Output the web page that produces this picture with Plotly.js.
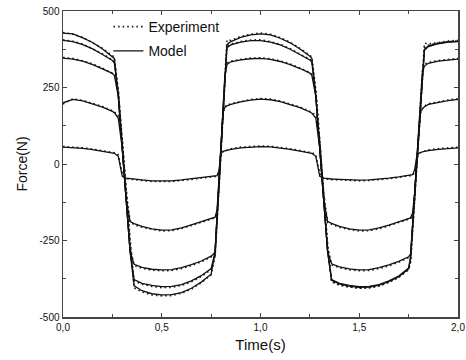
<!DOCTYPE html>
<html>
<head>
<meta charset="utf-8">
<script src="https://cdn.plot.ly/plotly-3.0.1.min.js"></script>
<style>html,body{margin:0;padding:0;background:#fff;}#chart{width:466px;height:360px;}</style>
</head>
<body>
<div id="chart"></div>
<script>
// Time (s)
const time = [0,0.05,0.1,0.15,0.2,0.25, 0.26,0.28,0.30,0.32,0.34,0.36, 0.4,0.45,0.5,0.55,0.6,0.65,0.7,0.75,
  0.77,0.78,0.79,0.80,0.81,0.82,0.83, 0.85,0.9,0.95,1.0,1.05,1.1,1.15,1.2,1.25,
  1.26,1.28,1.30,1.32,1.34,1.36, 1.4,1.45,1.5,1.55,1.6,1.65,1.7,1.75,
  1.76,1.77,1.78,1.79,1.80,1.81,1.82,1.83, 1.85,1.9,1.95,2.0];

// Model force (N)
const model1 = [428,425,412,397,376,352, 345,222,52,-117,-287,-398, -414,-424,-428,-427,-420,-406,-386,-360,
  -288,-172,-58,58,172,288,390, 400,414,422,425,422,411,396,376,352,
  345,222,52,-117,-287,-378, -390,-397,-401,-400,-394,-382,-366,-340,
  -310,-200,-100,0,100,200,300,375, 386,394,399,401];
const model2 = [404,400,390,376,358,338, 330,222,52,-117,-287,-378, -390,-397,-401,-400,-394,-382,-365,-342,
  -288,-172,-58,58,172,288,380, 389,398,403,403,398,389,375,358,340,
  332,222,52,-117,-287,-380, -392,-399,-403,-402,-396,-384,-368,-342,
  -300,-200,-100,0,100,200,300,372, 384,393,398,400];
const model3 = [346,343,336,325,311,296, 290,222,52,-117,-287,-328, -338,-344,-346,-345,-339,-329,-317,-301,
  -288,-172,-58,58,172,288,325, 334,340,344,345,342,335,325,312,297,
  290,222,52,-117,-287,-326, -336,-343,-346,-345,-339,-330,-318,-303,
  -295,-200,-100,0,100,200,300,320, 329,336,340,343];
const model4 = [200,211,206,197,186,172, 168,150,52,-117,-188,-195, -204,-212,-216,-215,-209,-199,-189,-178,
  -174,-150,-58,58,172,185,190, 195,203,209,212,210,204,195,184,170,
  166,150,52,-117,-188,-194, -204,-212,-216,-215,-209,-200,-190,-179,
  -176,-160,-100,0,100,170,180,187, 195,202,207,211];
const model5 = [55,54,51,47,42,36, 35,25,-40,-46,-48,-50, -52,-55,-56,-55,-52,-48,-44,-40,
  -39,-38,-20,38,41,43,45, 48,53,56,57,56,53,48,42,36,
  35,25,-40,-46,-48,-49, -50,-52,-53,-52,-50,-46,-42,-37,
  -36,-35,-20,20,35,38,40,41, 44,48,51,53];

// Experiment force (N)
const exp1 = [430,424,414,396,378,354, 350,240,80,-90,-270,-405, -418,-428,-431,-430,-422,-409,-388,-362,
  -300,-190,-80,40,160,290,405, 404,417,424,428,424,413,398,378,355,
  350,240,75,-95,-270,-385, -395,-402,-405,-404,-398,-386,-369,-345,
  -320,-220,-120,-15,90,200,310,395, 392,398,402,404];
const exp2 = [406,401,392,377,360,340, 335,240,80,-90,-270,-382, -393,-400,-404,-403,-397,-385,-368,-345,
  -300,-190,-80,40,160,290,385, 392,400,405,406,400,391,377,360,342,
  338,240,75,-95,-270,-384, -396,-402,-406,-405,-399,-387,-371,-345,
  -315,-220,-120,-15,90,200,310,380, 388,396,400,402];
const exp3 = [348,345,337,327,313,298, 293,240,80,-90,-270,-332, -341,-347,-349,-348,-342,-332,-320,-304,
  -298,-190,-80,40,160,290,330, 336,342,346,347,344,337,327,314,299,
  293,240,75,-95,-270,-330, -339,-346,-349,-348,-342,-333,-321,-306,
  -300,-220,-120,-15,90,200,310,326, 332,338,342,345];
const exp4 = [196,213,208,199,188,174, 170,160,80,-90,-190,-198, -207,-214,-219,-218,-211,-201,-191,-180,
  -176,-160,-80,40,160,188,192, 197,205,211,214,212,206,197,186,172,
  168,160,75,-95,-192,-197, -207,-214,-219,-218,-212,-202,-192,-181,
  -178,-170,-120,-15,90,165,182,189, 197,204,209,213];
const exp5 = [57,56,53,49,44,38, 37,30,-30,-48,-50,-52, -54,-57,-58,-57,-54,-50,-46,-42,
  -41,-40,-30,30,40,43,46, 50,55,58,59,58,55,50,44,38,
  37,30,-30,-48,-50,-51, -52,-54,-55,-54,-52,-48,-44,-39,
  -38,-37,-28,10,33,37,40,42, 46,50,53,55];

// Axis ticks
const xTickVals = [0, 0.5, 1.0, 1.5, 2.0];
const xTickText = ['0,0', '0,5', '1,0', '1,5', '2,0'];
const xMinorVals = [0.25, 0.75, 1.25, 1.75];
const yTickVals = [-500, -250, 0, 250, 500];
const yTickText = ['-500', '-250', '0', '250', '500'];
const yMinorVals = [-375, -125, 125, 375];

const expSeries = [exp1, exp2, exp3, exp4, exp5];
const modelSeries = [model1, model2, model3, model4, model5];

const traces = [];
expSeries.forEach((y, i) => traces.push({
  x: time, y: y, type: 'scatter', mode: 'lines', name: 'Experiment',
  legendgroup: 'exp', showlegend: i === 0,
  line: {color: '#222', width: 1.6, dash: '1.6px,3px'}
}));
modelSeries.forEach((y, i) => traces.push({
  x: time, y: y, type: 'scatter', mode: 'lines', name: 'Model',
  legendgroup: 'model', showlegend: i === 0,
  line: {color: '#111', width: 1.3}
}));

const font = {family: '"Liberation Sans", Arial, sans-serif', color: '#111'};

const layout = {
  width: 466, height: 360,
  margin: {l: 63, r: 8, t: 11, b: 43},
  paper_bgcolor: '#fff', plot_bgcolor: '#fff',
  font: Object.assign({size: 10}, font),
  showlegend: true,
  legend: {x: 0.115, y: 1.0, xanchor: 'left', yanchor: 'top', bgcolor: 'rgba(0,0,0,0)',
    font: Object.assign({size: 14}, font), tracegroupgap: 3, itemwidth: 30},
  xaxis: {
    range: [0, 2], tickvals: xTickVals, ticktext: xTickText,
    ticks: 'inside', ticklen: 4, tickwidth: 1, tickcolor: '#444',
    minor: {tickvals: xMinorVals, ticks: 'inside', ticklen: 3, tickcolor: '#444'},
    showline: true, linecolor: '#444', linewidth: 1.5, mirror: 'ticks',
    showgrid: false, zeroline: false,
    tickfont: Object.assign({size: 10}, font),
    title: {text: 'Time(s)', font: Object.assign({size: 15}, font), standoff: 8}
  },
  yaxis: {
    range: [-500, 500], tickvals: yTickVals, ticktext: yTickText,
    ticks: 'inside', ticklen: 4, tickwidth: 1, tickcolor: '#444',
    minor: {tickvals: yMinorVals, ticks: 'inside', ticklen: 3, tickcolor: '#444'},
    showline: true, linecolor: '#444', linewidth: 1.5, mirror: 'ticks',
    showgrid: false, zeroline: false,
    tickfont: Object.assign({size: 10}, font),
    title: {text: 'Force(N)', font: Object.assign({size: 14}, font), standoff: 8}
  }
};

Plotly.newPlot('chart', traces, layout, {displayModeBar: false, staticPlot: true});
</script>
</body>
</html>
